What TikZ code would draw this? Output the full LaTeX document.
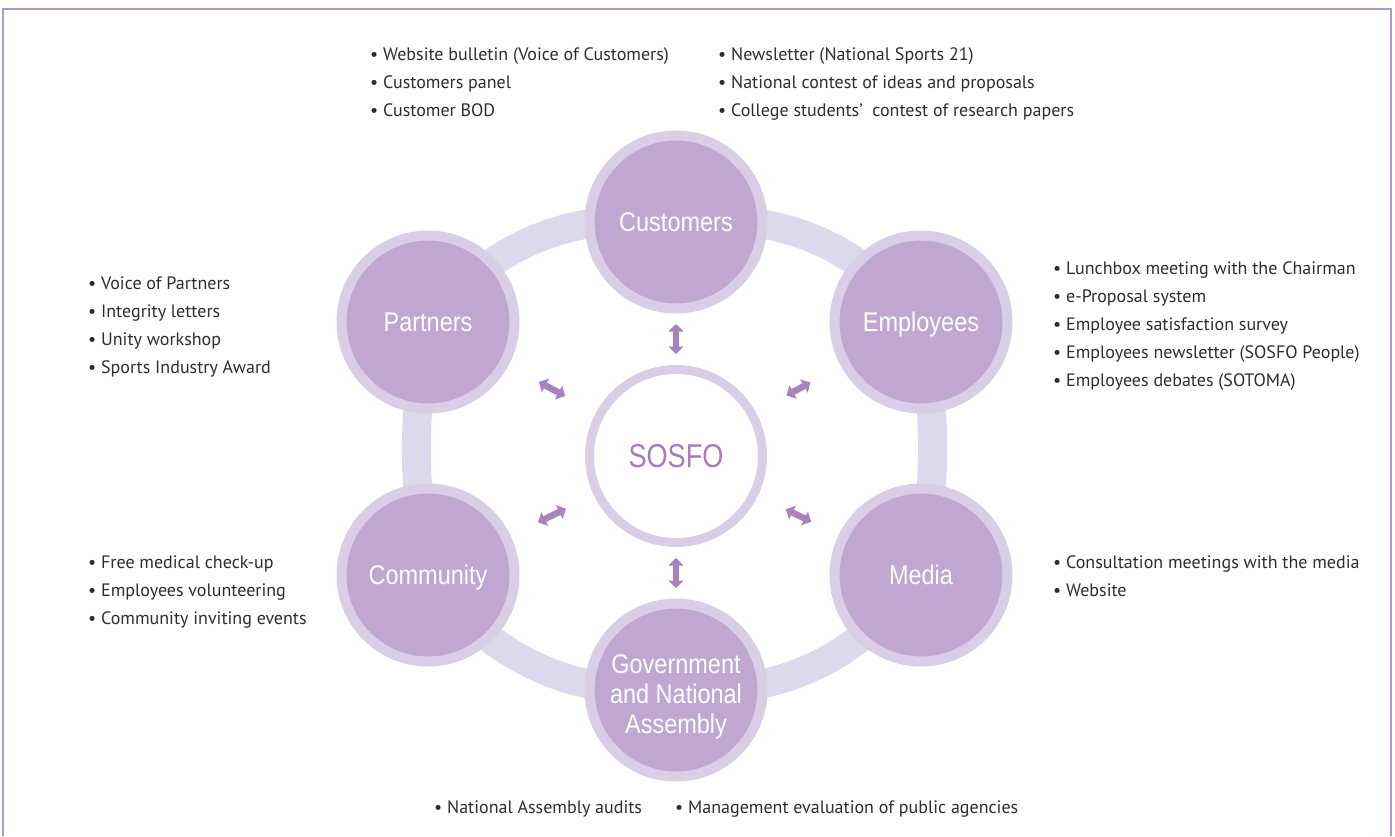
\documentclass[tikz,border=0pt]{standalone}
\usepackage{fontspec}
\setmainfont{PT Sans}
\newfontfamily\lblfont[FakeStretch=0.87]{Liberation Sans}
\newfontfamily\sosfofont[FakeStretch=0.82]{Liberation Sans}
\usetikzlibrary{arrows.meta}
\definecolor{nodec}{RGB}{193,167,208}
\definecolor{ringc}{RGB}{216,206,230}
\definecolor{bandc}{RGB}{221,217,236}
\definecolor{arrc}{RGB}{168,132,190}
\definecolor{sosc}{RGB}{165,125,185}
\definecolor{txtc}{RGB}{45,45,45}
\definecolor{framec}{RGB}{178,152,198}
\pgfdeclarelayer{bg}
\pgfsetlayers{bg,main}
\begin{document}
\begin{tikzpicture}[x=1pt,y=-1pt,
  stakebase/.style={circle, inner sep=0pt, minimum size=173pt, fill=nodec, draw=ringc,
    line width=10pt, text=white, align=center, font=\lblfont\fontsize{27}{30}\selectfont},
  stake/.style={stakebase, text height=19.5pt, text depth=0pt},
  hub/.style={circle, inner sep=0pt, minimum size=173pt, fill=white, draw=ringc,
    line width=9pt, text=sosc, font=\sosfofont\fontsize{33}{36}\selectfont,
    text height=23.5pt, text depth=0pt},
  bullets/.style={anchor=west, align=left, text=txtc, inner sep=0pt,
    font=\fontsize{18}{28}\selectfont},
  link/.style={draw=arrc, line width=6.5pt,
    {Triangle[width=15pt,length=7.5pt]}-{Triangle[width=15pt,length=7.5pt]}},
  band/.style={draw=bandc, line width=29pt}
]
\useasboundingbox (0,0) rectangle (1395,836);
\draw[framec, line width=1.5pt] (3,836) -- (3,9) -- (1391,9) -- (1391,836);

% hub and stakeholder nodes
\node[hub] (sosfo) at (676,456) {SOSFO};
\node[stake] (cust) at (676,222) {Customers};
\node[stake] (emp) at (921,322) {Employees};
\node[stake] (media) at (921,575) {Media};
\node[stakebase, text height=86pt, text depth=0pt] (gov) at (676,690) {Government\\and National\\Assembly};
\node[stake] (comm) at (428,575) {Community};
\node[stake] (part) at (428,322) {Partners};

% ring band behind the nodes
\begin{pgfonlayer}{bg}
\draw[band] (cust.center) to[bend left=28] (emp.center)
  to[bend left=9] (media.center)
  to[bend left=28] (gov.center)
  to[bend left=28] (comm.center)
  to[bend left=9] (part.center)
  to[bend left=28] (cust.center);
\end{pgfonlayer}

% double arrows
\draw[link, shorten <=102pt, shorten >=102pt] (sosfo.center) -- (cust.center);
\draw[link, shorten <=102pt, shorten >=102pt] (sosfo.center) -- (gov.center);
\draw[link, shorten <=126pt, shorten >=126pt] (sosfo.center) -- (part.center);
\draw[link, shorten <=126pt, shorten >=126pt] (sosfo.center) -- (emp.center);
\draw[link, shorten <=122pt, shorten >=122pt] (sosfo.center) -- (comm.center);
\draw[link, shorten <=122pt, shorten >=122pt] (sosfo.center) -- (media.center);

% bullet lists
\node[bullets] (custA) at (370,82) {\textbullet\ Website bulletin (Voice of Customers)\\
  \textbullet\ Customers panel\\ \textbullet\ Customer BOD};
\node[bullets] (custB) at (718,84) {\textbullet\ Newsletter (National Sports 21)\\
  \textbullet\ National contest of ideas and proposals\\
  \textbullet\ College students’ \ contest of research papers};
\node[bullets] (empL) at (1053,326) {\textbullet\ Lunchbox meeting with the Chairman\\
  \textbullet\ e-Proposal system\\
  \textbullet\ Employee satisfaction survey\\
  \textbullet\ Employees newsletter (SOSFO People)\\
  \textbullet\ Employees debates (SOTOMA)};
\node[bullets] (partL) at (88,327) {\textbullet\ Voice of Partners\\
  \textbullet\ Integrity letters\\
  \textbullet\ Unity workshop\\
  \textbullet\ Sports Industry Award};
\node[bullets] (commL) at (88,592) {\textbullet\ Free medical check-up\\
  \textbullet\ Employees volunteering\\
  \textbullet\ Community inviting events};
\node[bullets] (mediaL) at (1053,576) {\textbullet\ Consultation meetings with the media\\
  \textbullet\ Website};
\node[bullets] (govA) at (434,809) {\textbullet\ National Assembly audits};
\node[bullets] (govB) at (675,809) {\textbullet\ Management evaluation of public agencies};
\end{tikzpicture}
\end{document}
